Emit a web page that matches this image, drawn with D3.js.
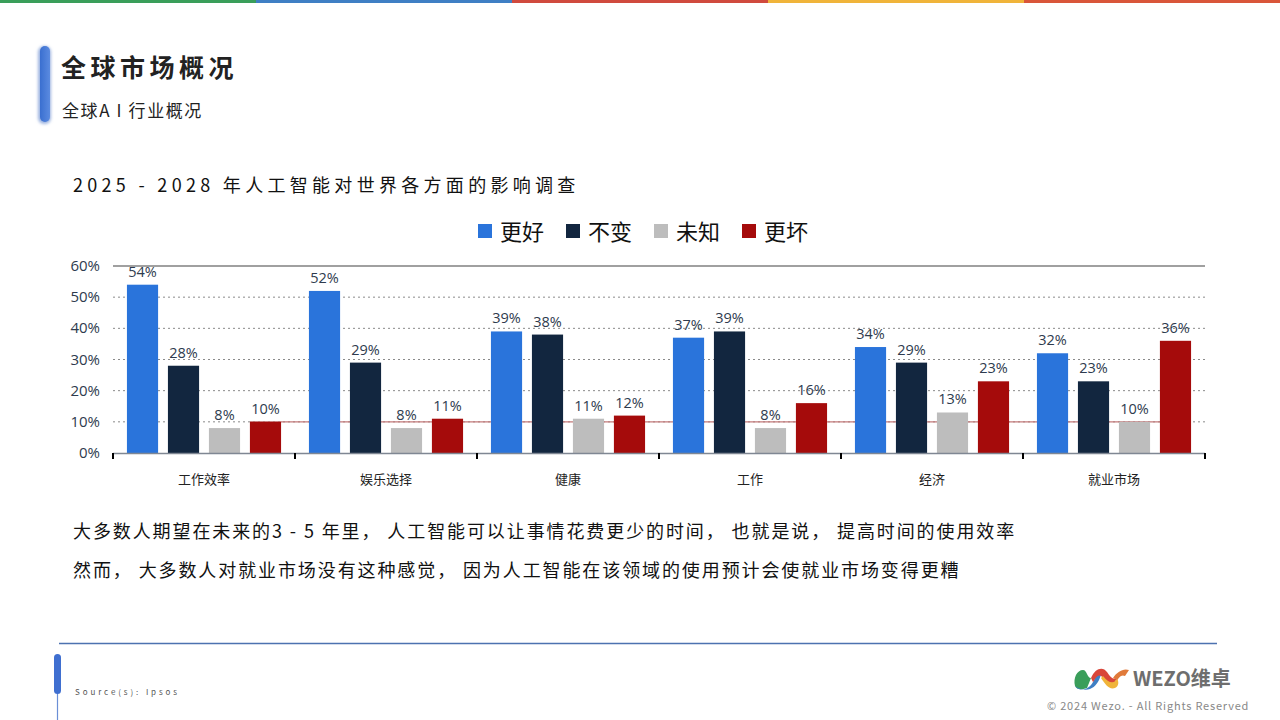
<!DOCTYPE html>
<html><head><meta charset="utf-8">
<script src="https://cdn.jsdelivr.net/npm/d3@7"></script>
<style>
html,body{margin:0;padding:0;background:#fff;}
svg{display:block;font-family:"Noto Sans CJK SC","Noto Sans",sans-serif;}
</style></head>
<body>
<svg id="c" width="1280" height="720"></svg>
<script>
const categories = ["工作效率","娱乐选择","健康","工作","经济","就业市场"];
const seriesNames = ["更好","不变","未知","更坏"];
const better  = [54,52,39,37,34,32];
const same    = [28,29,38,39,29,23];
const unknown = [8,8,11,8,13,10];
const worse   = [10,11,12,16,23,36];
const yTicks  = [0,10,20,30,40,50,60];
const colors  = ["#2a74db","#12263f","#bdbdbd","#a50b0b"];
const seriesValues = [better, same, unknown, worse];

const svg = d3.select("#c");

// top stripe
const stripe = ["#3a9e5a","#3f7fc4","#d04a3e","#f0b43a","#d9563a"];
stripe.forEach((c,i)=>svg.append("rect").attr("x",i*256).attr("y",0).attr("width",256).attr("height",3).attr("fill",c));

// header
const defs = svg.append("defs");
const g1 = defs.append("linearGradient").attr("id","bar1").attr("x1",0).attr("x2",1);
g1.append("stop").attr("offset","0%").attr("stop-color","#3a6fd0");
g1.append("stop").attr("offset","100%").attr("stop-color","#5b8be0");
const f = defs.append("filter").attr("id","sh").attr("x","-50%").attr("y","-20%").attr("width","200%").attr("height","140%");
f.append("feGaussianBlur").attr("stdDeviation",1.5);
svg.append("rect").attr("x",38).attr("y",46).attr("width",13).attr("height",78).attr("rx",6).attr("fill","#9db4e0").attr("filter","url(#sh)");
svg.append("rect").attr("x",40).attr("y",46).attr("width",10).attr("height",76).attr("rx",5).attr("fill","url(#bar1)");
svg.append("text").attr("x",61).attr("y",77).attr("font-size",25).attr("font-weight","bold").attr("fill","#222").attr("letter-spacing",4.5).text("全球市场概况");
svg.append("text").attr("x",62).attr("y",117).attr("font-size",17).attr("fill","#222").attr("letter-spacing",1.6).text("全球A I 行业概况");

svg.append("text").attr("x",73).attr("y",192).attr("font-size",18).attr("fill","#111").attr("letter-spacing",4.3).text("2025 - 2028 年人工智能对世界各方面的影响调查");

// chart
const x0 = 113, x1 = 1205;
const y = d3.scaleLinear().domain([0,60]).range([453,266]);
const xg = d3.scaleBand().domain(categories).range([x0,x1]).paddingInner(0).paddingOuter(0);
const xb = d3.scaleBand().domain(d3.range(4)).range([0,xg.bandwidth()]).paddingInner(0.24).paddingOuter(0.34);

const chart = svg.append("g");
// gridlines
chart.selectAll("line.grid").data(yTicks.filter(t=>t>0 && t<60)).enter().append("line")
  .attr("x1",x0).attr("x2",x1).attr("y1",d=>y(d)).attr("y2",d=>y(d))
  .attr("stroke","#8a8a8a").attr("stroke-width",1).attr("stroke-dasharray","2,3");
chart.append("line").attr("x1",x0).attr("x2",x1).attr("y1",y(60)).attr("y2",y(60)).attr("stroke","#a0a0a0").attr("stroke-width",2);
// faint red line at 10%
chart.append("line").attr("x1",250).attr("x2",1160).attr("y1",y(10)).attr("y2",y(10)).attr("stroke","#c47a7a").attr("stroke-width",1.2);

// y labels
chart.selectAll("text.yl").data(yTicks).enter().append("text")
  .attr("x",100).attr("y",d=>y(d)+5).attr("text-anchor","end").attr("font-size",15).attr("fill","#2e3b4e")
  .attr("font-family","'Open Sans','Noto Sans',sans-serif").text(d=>d+"%");

// bars
categories.forEach((cat,ci)=>{
  seriesValues.forEach((vals,si)=>{
    const bx = xg(cat)+xb(si), bw = xb.bandwidth(), v = vals[ci];
    chart.append("rect").attr("x",bx).attr("y",y(v)).attr("width",bw).attr("height",y(0)-y(v)).attr("fill",colors[si]);
    chart.append("text").attr("x",bx+bw/2).attr("y",y(v)-8).attr("text-anchor","middle")
      .attr("font-family","'Open Sans','Noto Sans',sans-serif")
      .attr("font-size",14.5).attr("fill","#2e3b4e").text(v+"%");
  });
});

// x axis
chart.append("line").attr("x1",x0).attr("x2",x1).attr("y1",453.5).attr("y2",453.5).attr("stroke","#7f8793").attr("stroke-width",1.5);
const bounds = [...categories.map(c=>xg(c)), x1];
chart.selectAll("line.tk").data(bounds).enter().append("line")
  .attr("x1",d=>d).attr("x2",d=>d).attr("y1",453).attr("y2",459).attr("stroke","#000").attr("stroke-width",2);
chart.selectAll("text.xl").data(categories).enter().append("text")
  .attr("x",d=>xg(d)+xg.bandwidth()/2).attr("y",484).attr("text-anchor","middle").attr("font-size",13).attr("fill","#222").text(d=>d);

// legend
const legendX = [478,566,654,742];
seriesNames.forEach((n,i)=>{
  svg.append("rect").attr("x",legendX[i]).attr("y",224).attr("width",14).attr("height",14).attr("fill",colors[i]);
  svg.append("text").attr("x",legendX[i]+22).attr("y",240).attr("font-size",22).attr("fill","#111").text(n);
});

// body text
svg.append("text").attr("x",73).attr("y",538).attr("font-size",18).attr("fill","#111").attr("letter-spacing",1.9).text("大多数人期望在未来的3 - 5 年里， 人工智能可以让事情花费更少的时间， 也就是说， 提高时间的使用效率");
svg.append("text").attr("x",73).attr("y",577).attr("font-size",18).attr("fill","#111").attr("letter-spacing",1.9).text("然而， 大多数人对就业市场没有这种感觉， 因为人工智能在该领域的使用预计会使就业市场变得更糟");

// footer
svg.append("line").attr("x1",59).attr("x2",1217).attr("y1",643.5).attr("y2",643.5).attr("stroke","#4d72b0").attr("stroke-width",1.5);
svg.append("line").attr("x1",57.5).attr("x2",57.5).attr("y1",680).attr("y2",720).attr("stroke","#6b8fd6").attr("stroke-width",1.2);
svg.append("rect").attr("x",54).attr("y",654).attr("width",7).attr("height",40).attr("rx",3.5).attr("fill","#3f6fd0");
svg.append("text").attr("x",75).attr("y",695).attr("font-size",8).attr("fill","#555").attr("letter-spacing",2.9).text("Source(s):  Ipsos");

// logo
const lg = svg.append("g").attr("transform","translate(1073,664)");
lg.append("path").attr("d","M2,22 C0,14 4,6 10,6 C14,6 14,14 18,14 L14,24 C8,26 4,26 2,22 Z").attr("fill","#3a9e5a");
lg.append("path").attr("d","M2,22 C6,28 16,26 20,18 C24,10 26,6 30,6 L26,16 C22,24 14,30 2,22 Z").attr("fill","#3f7fc4");
lg.append("path").attr("d","M18,14 C22,4 30,2 34,8 C38,14 40,16 44,14 L40,22 C34,24 32,14 28,12 C24,10 22,16 20,18 Z").attr("fill","#d9463a");
lg.append("path").attr("d","M28,14 C32,20 36,26 42,24 C46,22 46,18 44,14 C42,20 36,20 30,12 Z").attr("fill","#f0b43a");
lg.append("path").attr("d","M40,14 C44,8 50,4 56,6 L52,12 C48,10 46,14 44,16 Z").attr("fill","#e07a3a");
svg.append("text").attr("x",1133).attr("y",686).attr("font-size",20).attr("font-weight","bold").attr("fill","#6e6e6e").text("WEZO维卓");
svg.append("text").attr("x",1047).attr("y",710).attr("font-size",11).attr("fill","#888").attr("letter-spacing",0.8).text("© 2024 Wezo. - All Rights Reserved");
</script>
</body></html>
